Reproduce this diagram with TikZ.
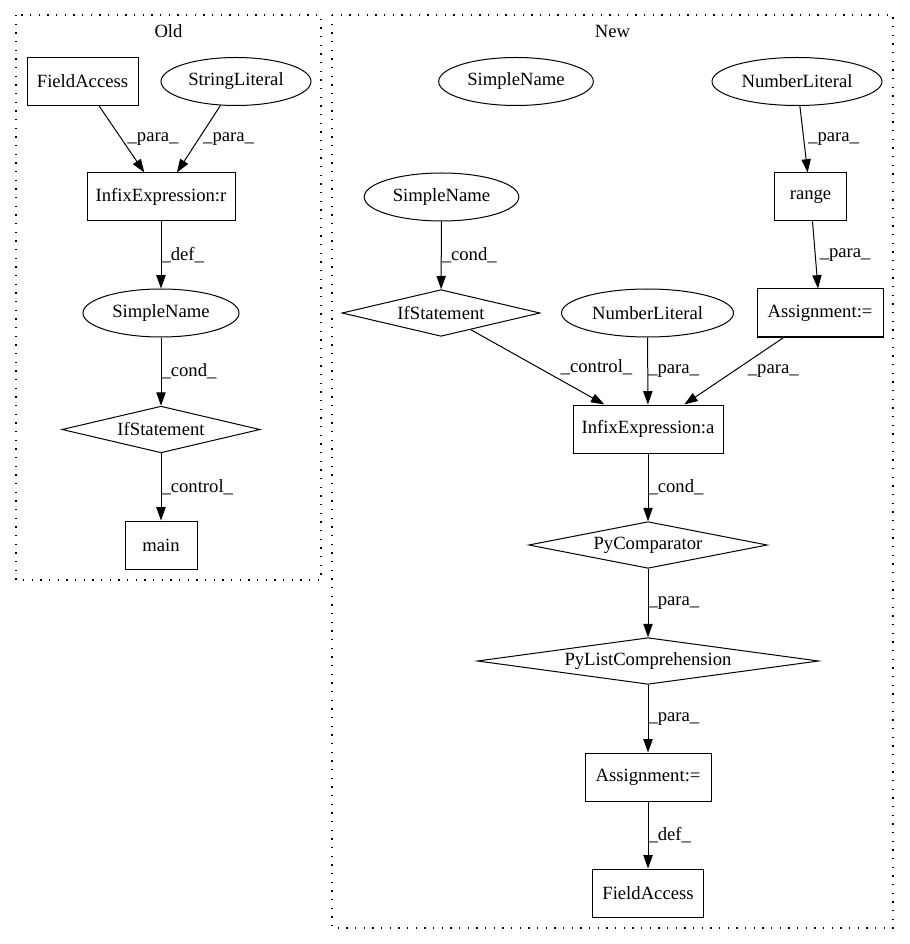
\documentclass[tikz,border=0pt]{standalone}
\usepackage{fontspec}
\setmainfont{Liberation Serif}
\usetikzlibrary{shapes.geometric,arrows.meta}

\begin{document}
\begin{tikzpicture}[x=0.75pt,y=-0.75pt,
        font=\fontsize{14pt}{16pt}\selectfont,
        box/.style={draw,rectangle,inner sep=0pt,minimum height=36pt,line width=0.75pt},
        oval/.style={draw,ellipse,inner sep=0pt,minimum height=36pt,line width=0.75pt},
        cond/.style={draw,diamond,aspect=7,inner sep=0pt,minimum height=35pt,line width=0.75pt},
        edge/.style={-{Triangle[length=10pt,width=7pt]},line width=0.75pt},
        lbl/.style={midway,anchor=west,inner sep=0pt},
        cluster/.style={dash pattern=on 1pt off 5.5pt,line width=0.9pt}]
        \useasboundingbox (0,0) rectangle (909,944);
        % clusters
        \draw[cluster] (16,15) rectangle (321,580);
        \draw[cluster] (332,15) rectangle (893,928);
        \node (OldTitle) at (168.5,31) {Old};
        \node (NewTitle) at (612.5,31) {New};
        % old side
        \node[box,minimum width=83.25pt] (oldField) at (82.5,81.5) {FieldAccess};
        \node[oval,minimum width=112.5pt] (oldString) at (236,81.5) {StringLiteral};
        \node[box,minimum width=111pt] (oldInfix) at (161,197) {InfixExpression:r};
        \node[oval,minimum width=117pt] (oldName) at (161,313) {SimpleName};
        \node[cond,minimum width=148.5pt] (oldIf) at (161,429.5) {IfStatement};
        \node[box,minimum width=54pt] (oldMain) at (161,545) {main};
        % new side
        \node[oval,minimum width=116pt] (newName) at (516,81.5) {SimpleName};
        \node[oval,minimum width=127.5pt] (newNumTop) at (797,81.5) {NumberLiteral};
        \node[oval,minimum width=116pt] (newNameIf) at (441.5,197) {SimpleName};
        \node[box,minimum width=54pt] (newRange) at (810.5,197) {range};
        \node[cond,minimum width=148.5pt] (newIf) at (441,313) {IfStatement};
        \node[oval,minimum width=129pt] (newNum) at (647.5,313) {NumberLiteral};
        \node[box,minimum width=94.5pt] (newAssignTop) at (820,313) {Assignment:=};
        \node[box,minimum width=112.5pt] (newInfix) at (648,429) {InfixExpression:a};
        \node[cond,minimum width=179pt] (newComp) at (648,545) {PyComparator};
        \node[cond,minimum width=256pt] (newList) at (648,661) {PyListComprehension};
        \node[box,minimum width=94.5pt] (newAssign) at (648,777) {Assignment:=};
        \node[box,minimum width=83.25pt] (newField) at (648,893) {FieldAccess};
        % old edges
        \draw[edge] (oldField) -- node[lbl,xshift=4pt] {\_para\_} (oldInfix);
        \draw[edge] (oldString) -- node[lbl,xshift=3pt] {\_para\_} (oldInfix);
        \draw[edge] (oldInfix) -- node[lbl] {\_def\_} (oldName);
        \draw[edge] (oldName) -- node[lbl] {\_cond\_} (oldIf);
        \draw[edge] (oldIf) -- node[lbl] {\_control\_} (oldMain);
        % new edges
        \draw[edge] (newNumTop) -- node[lbl,xshift=3pt] {\_para\_} (newRange);
        \draw[edge] (newNameIf) -- node[lbl] {\_cond\_} (newIf);
        \draw[edge] (newRange) -- node[lbl,xshift=3pt] {\_para\_} (newAssignTop);
        \draw[edge] (newIf) -- node[lbl,xshift=17pt] {\_control\_} (newInfix);
        \draw[edge] (newNum) -- node[lbl] {\_para\_} (newInfix);
        \draw[edge] (newAssignTop) -- node[lbl,xshift=10pt] {\_para\_} (newInfix);
        \draw[edge] (newInfix) -- node[lbl] {\_cond\_} (newComp);
        \draw[edge] (newComp) -- node[lbl] {\_para\_} (newList);
        \draw[edge] (newList) -- node[lbl] {\_para\_} (newAssign);
        \draw[edge] (newAssign) -- node[lbl] {\_def\_} (newField);
\end{tikzpicture}
\end{document}
